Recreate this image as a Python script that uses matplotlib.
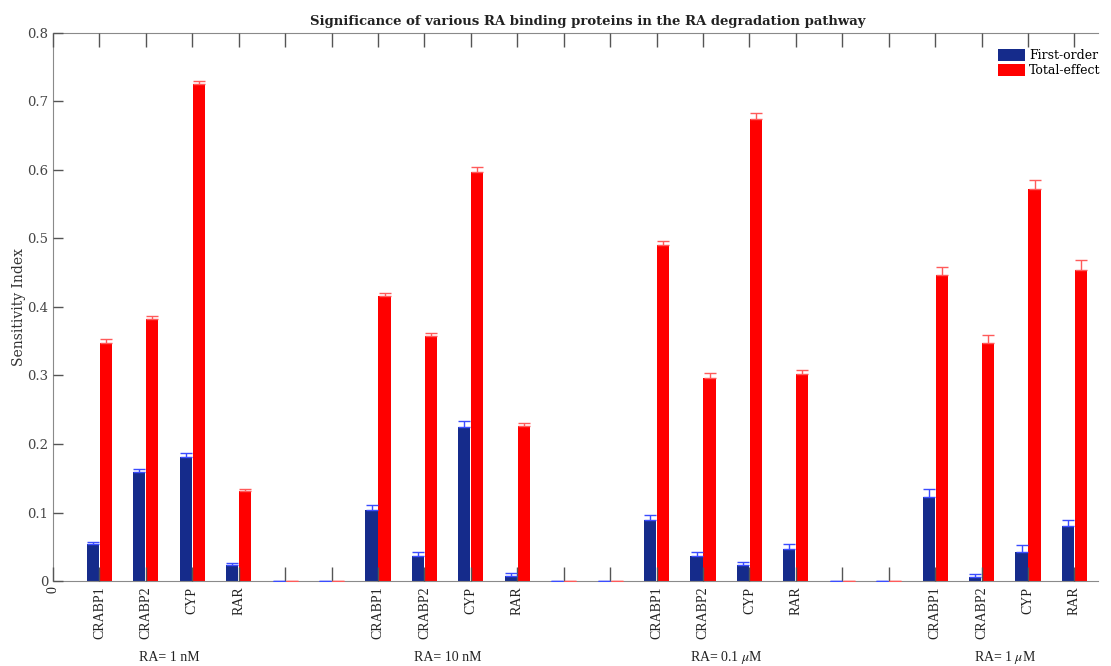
import numpy as np
import matplotlib.pyplot as plt

plt.rcParams['mathtext.fontset'] = 'stix'

proteins = ['CRABP1', 'CRABP2', 'CYP', 'RAR']
conditions = ['RA= 1 nM', 'RA= 10 nM', r'RA= 0.1 $\mu$M', r'RA= 1 $\mu$M']

# sensitivity indices per condition (rows) and protein (columns)
first_order = [[0.054, 0.159, 0.181, 0.023],
               [0.103, 0.036, 0.225, 0.008],
               [0.089, 0.036, 0.024, 0.047],
               [0.122, 0.006, 0.043, 0.080]]
first_err = [[0.003, 0.005, 0.006, 0.003],
             [0.008, 0.006, 0.008, 0.003],
             [0.007, 0.006, 0.004, 0.007],
             [0.012, 0.004, 0.009, 0.009]]
total_effect = [[0.348, 0.383, 0.726, 0.132],
                [0.416, 0.357, 0.597, 0.226],
                [0.490, 0.297, 0.675, 0.302],
                [0.446, 0.348, 0.572, 0.454]]
total_err = [[0.005, 0.004, 0.004, 0.002],
             [0.005, 0.005, 0.008, 0.004],
             [0.007, 0.006, 0.008, 0.006],
             [0.012, 0.011, 0.014, 0.014]]
n_gap = 2

# lay the groups out with empty slots between them
S1, E1, ST, ET, labels = [], [], [], [], ['0']
for g in range(len(conditions)):
    S1 += first_order[g]
    E1 += first_err[g]
    ST += total_effect[g]
    ET += total_err[g]
    labels += proteins
    if g < len(conditions) - 1:
        S1 += [0] * n_gap
        E1 += [0] * n_gap
        ST += [0] * n_gap
        ET += [0] * n_gap
        labels += [''] * n_gap
S1, E1, ST, ET = map(np.array, (S1, E1, ST, ET))
x = np.arange(1, len(S1) + 1)

blue = '#152b8b'
red = '#ff0000'
w = 0.26

fig = plt.figure(figsize=(11.11, 6.66), dpi=100)
ax = fig.add_axes([0.0477, 0.1276, 0.9403, 0.8229])

ax.bar(x - 0.14, S1, w, color=blue, label='First-order', zorder=2)
ax.bar(x + 0.14, ST, w, color=red, label='Total-effect', zorder=2)
ax.errorbar(x - 0.14, S1, yerr=[np.zeros_like(E1), E1], fmt='none',
            ecolor='#3a4cff', elinewidth=1, capsize=4, capthick=1, zorder=3)
ax.errorbar(x + 0.14, ST, yerr=[np.zeros_like(ET), ET], fmt='none',
            ecolor='#ff5a5a', elinewidth=1, capsize=4, capthick=1, zorder=3)

ax.set_xlim(0, 22.5)
ax.set_ylim(0, 0.8)
ax.set_xticks(np.arange(0, len(S1) + 1))
ax.set_xticklabels(labels, rotation=90, family='Liberation Serif',
                   fontsize=10, color='#222222')
ax.set_yticks(np.arange(0, 0.81, 0.1))
ax.set_yticklabels(['0'] + ['%.1f' % v for v in np.arange(0.1, 0.81, 0.1)],
                   family='DejaVu Serif', fontsize=9.5, color='#444444')
ax.tick_params(axis='x', direction='in', length=10, width=1, color='#555555',
               top=True, pad=4)
ax.tick_params(axis='y', direction='in', length=7, width=1, color='#555555')
ax.spines['right'].set_visible(False)
for s in ('left', 'top', 'bottom'):
    ax.spines[s].set_color('#8a8a8a')
ax.set_axisbelow(False)

ax.set_ylabel('Sensitivity Index', family='DejaVu Serif', fontsize=10,
              color='#333333', labelpad=1)

# condition names under each group of proteins
k = 1
for g, name in enumerate(conditions):
    centre = k + (len(proteins) - 1) / 2
    ax.text(centre, -0.14, name, ha='center', va='center',
            family='Liberation Serif', fontsize=10, color='#222222',
            transform=ax.get_xaxis_transform())
    k += len(proteins) + n_gap

fig.text(0.529, 0.968, 'Significance of various RA binding proteins in the RA degradation pathway',
         ha='center', va='center', family='DejaVu Serif', fontweight='bold',
         fontsize=9.5, color='#222222')

ax.legend(loc='upper right', bbox_to_anchor=(1.01, 0.985), frameon=False,
          prop={'family': 'DejaVu Serif', 'size': 9}, handlelength=2.2,
          handleheight=1.1, handletextpad=0.3, labelspacing=0.15,
          borderaxespad=0.2)

fig.savefig('out.png', dpi=100)
